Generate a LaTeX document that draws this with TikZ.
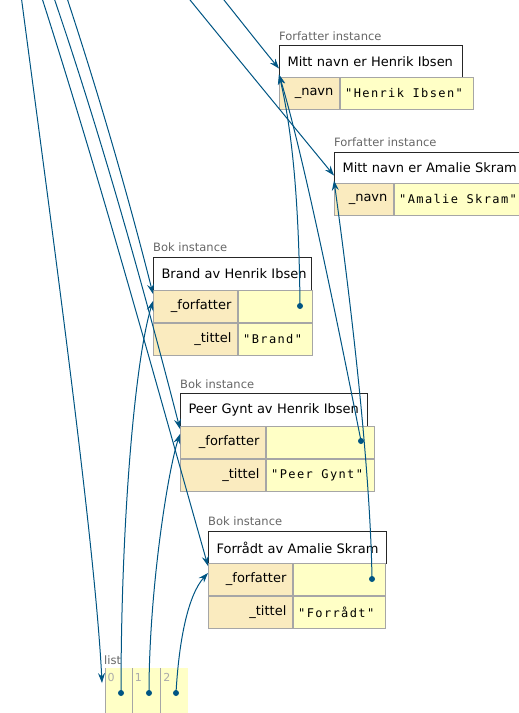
\documentclass[tikz,border=0pt]{standalone}
\usepackage{fontspec}
\setmainfont{DejaVu Sans}
\newfontfamily\codefont{DejaVu Sans Mono}[LetterSpace=11.5,Ligatures=TeXOff]
\usetikzlibrary{arrows.meta}

\definecolor{ptrblue}{HTML}{005583}
\definecolor{keybg}{HTML}{FAEBBF}
\definecolor{valbg}{HTML}{FFFFC6}
\definecolor{gridgray}{HTML}{A6A6A6}
\definecolor{labelgray}{HTML}{666666}
\definecolor{indexgray}{HTML}{AAAAAA}

\tikzset{
  typelabel/.style={anchor=west, inner sep=0pt, text=labelgray,
    font=\fontsize{11.5}{13}\selectfont},
  titlebox/.style={draw=black!85, line width=1.1pt, fill=white, anchor=north west,
    inner xsep=8pt, inner ysep=0pt, minimum height=33pt, align=left,
    font=\fontsize{13}{15}\selectfont},
  keycell/.style={draw=gridgray, line width=0.8pt, fill=keybg, anchor=north west,
    inner xsep=6pt, inner ysep=0pt, minimum height=32pt, align=right,
    font=\fontsize{13}{15}\selectfont},
  % monospaced values: a space is as wide as one letter cell
  valcell/.style={draw=gridgray, line width=0.8pt, fill=valbg, anchor=north west,
    inner xsep=5pt, inner ysep=0pt, minimum height=32pt, align=left,
    font=\codefont\fontsize{12}{14}\selectfont,
    execute at begin node={\spaceskip=8.6pt\relax}},
  listcell/.style={fill=valbg, anchor=north west, inner sep=0pt, minimum height=50pt},
  idx/.style={inner sep=0pt, text=indexgray, font=\fontsize{11}{13}\selectfont},
  dot/.style={circle, fill=ptrblue, inner sep=0pt, minimum size=6pt},
  ptrline/.style={draw=ptrblue, line width=1pt,
    -{Stealth[length=10pt,width=7pt,inset=3.5pt]}},
}

\begin{document}
\begin{tikzpicture}[x=1pt,y=-1pt]
\useasboundingbox (0,0) rectangle (519,713);
\clip (0,0) rectangle (519,713);

% ---- Forfatter objects ----
\node[typelabel] (f1lab) at (279,36) {Forfatter instance};
\node[titlebox, text width=167pt, minimum height=32pt] (f1t) at (279,45) {\mbox{Mitt navn er Henrik Ibsen}};
\node[keycell, text width=48pt] (f1k) at (279,77) {\_navn};
\node[valcell, text width=123pt] (f1v) at (f1k.north east) {"Henrik Ibsen"};

\node[typelabel] (f2lab) at (334,142) {Forfatter instance};
\node[titlebox, text width=190pt, minimum height=31pt] (f2t) at (334,152) {\mbox{Mitt navn er Amalie Skram}};
\node[keycell, text width=47pt] (f2k) at (334,183) {\_navn};
\node[valcell, text width=140pt] (f2v) at (f2k.north east) {"Amalie Skram"};

% ---- Bok objects ----
\node[typelabel] (b1lab) at (153,247) {Bok instance};
\node[titlebox, text width=142pt] (b1t) at (153,257) {\mbox{Brand av Henrik Ibsen}};
\node[keycell, text width=72pt] (b1k1) at (153,290) {\_forfatter};
\node[valcell, text width=64pt] (b1v1) at (b1k1.north east) {};
\node[keycell, text width=72pt] (b1k2) at (b1k1.south west) {\_tittel};
\node[valcell, text width=64pt] (b1v2) at (b1k2.north east) {"Brand"};

\node[typelabel] (b2lab) at (180,384) {Bok instance};
\node[titlebox, text width=171pt] (b2t) at (180,393) {\mbox{Peer Gynt av Henrik Ibsen}};
\node[keycell, text width=73pt] (b2k1) at (180,426) {\_forfatter};
\node[valcell, text width=98pt] (b2v1) at (b2k1.north east) {};
\node[keycell, text width=73pt] (b2k2) at (b2k1.south west) {\_tittel};
\node[valcell, text width=98pt] (b2v2) at (b2k2.north east) {"Peer Gynt"};

\node[typelabel] (b3lab) at (208,521) {Bok instance};
\node[titlebox, text width=162pt, minimum height=32pt] (b3t) at (208,531) {\mbox{Forrådt av Amalie Skram}};
\node[keycell, text width=72pt] (b3k1) at (208,563) {\_forfatter};
\node[valcell, text width=82pt] (b3v1) at (b3k1.north east) {};
\node[keycell, text width=72pt] (b3k2) at (b3k1.south west) {\_tittel};
\node[valcell, text width=82pt] (b3v2) at (b3k2.north east) {"Forrådt"};

% ---- list ----
\node[typelabel] (llab) at (104,660) {list};
\node[listcell, minimum width=27pt] (l0) at (105,668) {};
\node[listcell, minimum width=28pt] (l1) at (l0.north east) {};
\node[listcell, minimum width=27pt] (l2) at (l1.north east) {};
\foreach \c in {l0,l1,l2}
  \draw[gridgray, line width=0.8pt] (\c.north west) -- (\c.south west);
\node[idx] (i0) at ([xshift=6pt,yshift=-9pt]l0.north west) {0};
\node[idx] (i1) at ([xshift=6pt,yshift=-9pt]l1.north west) {1};
\node[idx] (i2) at ([xshift=6pt,yshift=-9pt]l2.north west) {2};

% ---- pointer dots ----
\node[dot] (b1d) at (300,306) {};
\node[dot] (b2d) at (361,441) {};
\node[dot] (b3d) at (372,579) {};
\node[dot] (l0d) at (121,693) {};
\node[dot] (l1d) at (149,693) {};
\node[dot] (l2d) at (176,693) {};

% ---- references coming from above ----
\coordinate (srcL)  at (21,-5);
\coordinate (srcB3) at (41,-5);
\coordinate (srcB2) at (53,-5);
\coordinate (srcB1) at (66,-5);
\coordinate (srcF2) at (186,-5);
\coordinate (srcF1) at (220,-5);

\draw[ptrline] (srcL)  .. controls (48,200) and (95,540) .. ([xshift=-3pt,yshift=-15pt]l0.north west);
\draw[ptrline] (srcB1) .. controls (99,95) and (128,195) .. ([yshift=-4pt]b1k1.north west);
\draw[ptrline] (srcB2) .. controls (101,135) and (144,289) .. ([yshift=-3pt]b2k1.north west);
\draw[ptrline] (srcB3) .. controls (102,185) and (154,376) .. ([yshift=-3pt]b3k1.north west);
\draw[ptrline] (srcF1) .. controls (240,20) and (262,48) .. ([yshift=-7pt]f1t.west);
\draw[ptrline] (srcF2) .. controls (225,43) and (295,128) .. ([yshift=-7.5pt]f2t.west);

% ---- list elements ----
\draw[ptrline] (l0d.center) .. controls (121,520) and (135,360) .. ([yshift=-11pt]b1k1.north west);
\draw[ptrline] (l1d.center) .. controls (149,590) and (168,470) .. ([yshift=-8pt]b2k1.north west);
\draw[ptrline] (l2d.center) .. controls (179,640) and (188,595) .. ([yshift=-10pt]b3k1.north west);

% ---- _forfatter attributes ----
\draw[ptrline] (b1d.center) .. controls (299,200) and (292,130) .. ([yshift=-13pt]f1t.west);
\draw[ptrline] (b2d.center) .. controls (345,360) and (305,160) .. ([yshift=-13pt]f1t.west);
\draw[ptrline] (b3d.center) .. controls (370,450) and (345,260) .. ([yshift=-12.5pt]f2t.west);
\end{tikzpicture}
\end{document}
